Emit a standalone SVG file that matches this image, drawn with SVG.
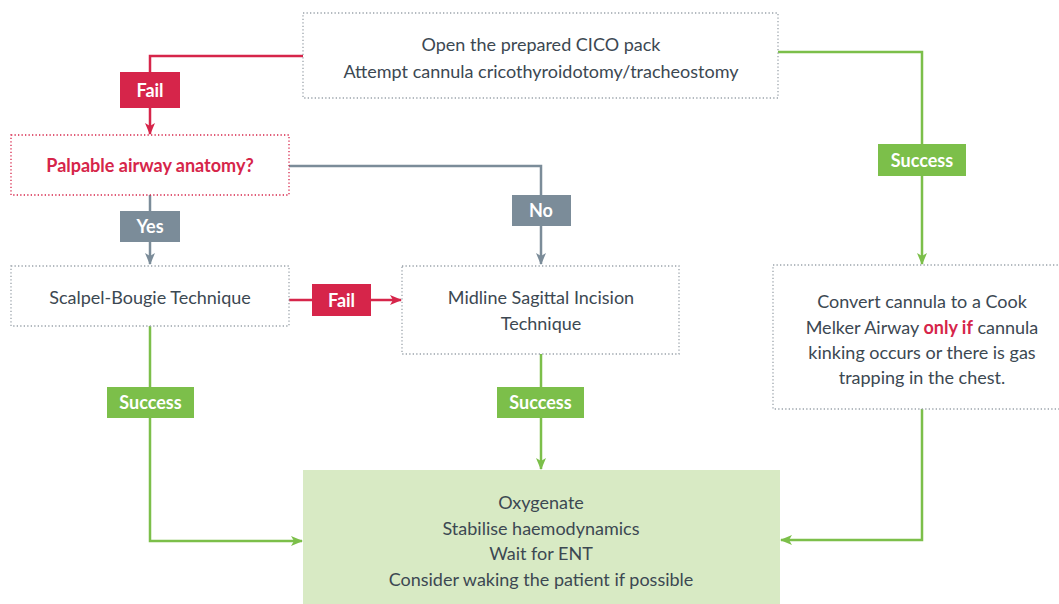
<svg xmlns="http://www.w3.org/2000/svg" width="1059" height="604" viewBox="0 0 1059 604">
<defs>
<style>
.box{fill:#fff;stroke:#9aa3aa;stroke-width:1.3;stroke-dasharray:1.3 2.2}
.rbox{fill:#fff;stroke:#d6254a;stroke-width:1.3;stroke-dasharray:1.3 2.2}
.t{font-family:Lato,"Open Sans","Liberation Sans",sans-serif;font-size:18px;fill:#3c4852;text-anchor:middle}
.lbl{font-family:Lato,"Open Sans","Liberation Sans",sans-serif;font-size:18px;font-weight:bold;fill:#fff;text-anchor:middle}
.red{stroke:#d6254a;stroke-width:2.5;fill:none}
.gry{stroke:#7b8c99;stroke-width:2.5;fill:none}
.grn{stroke:#7cbf4a;stroke-width:2.5;fill:none}
</style>
<marker id="aR" viewBox="0 0 12 10" refX="11" refY="5" markerWidth="12" markerHeight="10" markerUnits="userSpaceOnUse" orient="auto"><path d="M0,0 L12,5 L0,10 L3,5 Z" fill="#d6254a"/></marker>
<marker id="aG" viewBox="0 0 12 10" refX="11" refY="5" markerWidth="12" markerHeight="10" markerUnits="userSpaceOnUse" orient="auto"><path d="M0,0 L12,5 L0,10 L3,5 Z" fill="#7b8c99"/></marker>
<marker id="aN" viewBox="0 0 12 10" refX="11" refY="5" markerWidth="12" markerHeight="10" markerUnits="userSpaceOnUse" orient="auto"><path d="M0,0 L12,5 L0,10 L3,5 Z" fill="#7cbf4a"/></marker>
</defs>
<rect width="1059" height="604" fill="#fff"/>

<g id="connectors">
<path class="red" d="M303,56 H150 V134" marker-end="url(#aR)"/>
<path class="gry" d="M289,166 H541 V264" marker-end="url(#aG)"/>
<path class="gry" d="M150,195 V264" marker-end="url(#aG)"/>
<path class="red" d="M289,300 H401" marker-end="url(#aR)"/>
<path class="grn" d="M778,52 H922 V264" marker-end="url(#aN)"/>
<path class="grn" d="M150,326 V541 H302" marker-end="url(#aN)"/>
<path class="grn" d="M541,354 V469" marker-end="url(#aN)"/>
<path class="grn" d="M922,409 V540 H781" marker-end="url(#aN)"/>
<g id="lbl-fail1"><rect x="120" y="72" width="60" height="36" fill="#d6254a"/><text class="lbl" x="150" y="96.5">Fail</text></g>
<g id="lbl-yes"><rect x="120" y="211" width="60" height="31" fill="#7b8c99"/><text class="lbl" x="150" y="233">Yes</text></g>
<g id="lbl-no"><rect x="512" y="195" width="59" height="31" fill="#7b8c99"/><text class="lbl" x="541" y="217">No</text></g>
<g id="lbl-fail2"><rect x="312" y="284" width="59" height="32" fill="#d6254a"/><text class="lbl" x="341.5" y="306.5">Fail</text></g>
<g id="lbl-succ-right"><rect x="878" y="144" width="88" height="32" fill="#7cbf4a"/><text class="lbl" x="922" y="166.5">Success</text></g>
<g id="lbl-succ-left"><rect x="107" y="387" width="87" height="31" fill="#7cbf4a"/><text class="lbl" x="150.5" y="409">Success</text></g>
<g id="lbl-succ-mid"><rect x="497" y="387" width="87" height="31" fill="#7cbf4a"/><text class="lbl" x="540.5" y="409">Success</text></g>
</g>

<g id="node-start">
<rect class="box" x="303" y="13" width="475" height="85"/>
<text class="t" x="541" y="51">Open the prepared CICO pack</text>
<text class="t" x="541" y="78">Attempt cannula cricothyroidotomy/tracheostomy</text>
</g>

<g id="node-palpable">
<rect class="rbox" x="11" y="135" width="278" height="60"/>
<text class="t" x="150" y="172" style="font-weight:bold;fill:#d6254a">Palpable airway anatomy?</text>
</g>

<g id="node-scalpel">
<rect class="box" x="11" y="266" width="278" height="60"/>
<text class="t" x="150" y="304">Scalpel-Bougie Technique</text>
</g>

<g id="node-midline">
<rect class="box" x="402" y="266" width="277" height="88"/>
<text class="t" x="541" y="304">Midline Sagittal Incision</text>
<text class="t" x="541" y="330">Technique</text>
</g>

<g id="node-convert">
<rect class="box" x="773" y="265" width="290" height="144"/>
<text class="t" x="922" y="308">Convert cannula to a Cook</text>
<text class="t" x="922" y="334">Melker Airway <tspan style="font-weight:bold;fill:#d6254a">only if</tspan> cannula</text>
<text class="t" x="922" y="359">kinking occurs or there is gas</text>
<text class="t" x="922" y="384">trapping in the chest.</text>
</g>

<g id="node-oxygenate">
<rect x="303" y="470" width="477" height="140" fill="#d8eac4"/>
<text class="t" x="541" y="509">Oxygenate</text>
<text class="t" x="541" y="535">Stabilise haemodynamics</text>
<text class="t" x="541" y="560">Wait for ENT</text>
<text class="t" x="541" y="586">Consider waking the patient if possible</text>
</g>
</svg>
